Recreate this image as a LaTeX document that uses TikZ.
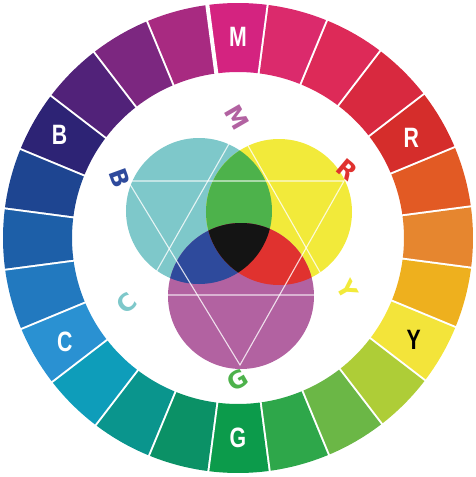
\documentclass[tikz,border=0pt]{standalone}
\usepackage{fontspec}
\setmainfont{Liberation Sans}
\newfontfamily\heavyfont{DejaVu Sans}

% ring colours, clockwise from the top (M)
\definecolor{ring0}{HTML}{D42380}
\definecolor{ring1}{HTML}{DB2A6C}
\definecolor{ring2}{HTML}{DD2A58}
\definecolor{ring3}{HTML}{D8293F}
\definecolor{ring4}{HTML}{D52D2B}
\definecolor{ring5}{HTML}{E25A24}
\definecolor{ring6}{HTML}{E6862F}
\definecolor{ring7}{HTML}{EEB01E}
\definecolor{ring8}{HTML}{F3E43A}
\definecolor{ring9}{HTML}{AECD37}
\definecolor{ring10}{HTML}{6BB746}
\definecolor{ring11}{HTML}{2EA74A}
\definecolor{ring12}{HTML}{0C9B4B}
\definecolor{ring13}{HTML}{0B9166}
\definecolor{ring14}{HTML}{0A958D}
\definecolor{ring15}{HTML}{0E9DBA}
\definecolor{ring16}{HTML}{2A91D2}
\definecolor{ring17}{HTML}{2279BF}
\definecolor{ring18}{HTML}{1D5FA8}
\definecolor{ring19}{HTML}{1E4591}
\definecolor{ring20}{HTML}{2D2375}
\definecolor{ring21}{HTML}{512279}
\definecolor{ring22}{HTML}{7C2780}
\definecolor{ring23}{HTML}{A82A81}
% inner circles and their overlaps
\definecolor{mixC}{HTML}{7EC8CA}
\definecolor{mixY}{HTML}{F2EA3A}
\definecolor{mixM}{HTML}{B262A1}
\definecolor{mixG}{HTML}{4DB24B}
\definecolor{mixB}{HTML}{2E4A9C}
\definecolor{mixR}{HTML}{E0322F}
\definecolor{mixK}{HTML}{141414}

\tikzset{
  ringlabel/.style={font=\bfseries\fontsize{28}{28}\selectfont, text=white, xscale=0.76, inner sep=0pt},
  innerlabel/.style={font=\heavyfont\bfseries\fontsize{24}{24}\selectfont, inner sep=0pt},
  hexline/.style={white, opacity=0.8, line width=1.1pt}
}

\begin{document}
\begin{tikzpicture}[x=1pt,y=1pt]
  \useasboundingbox (-238,-239) rectangle (238,238);

  % ring of 24 hues
  \foreach \i in {0,...,23}{
    \fill[ring\i] (90-15*\i-7.5:166) arc (90-15*\i-7.5:90-15*\i+7.5:166)
      -- (90-15*\i+7.5:235) arc (90-15*\i+7.5:90-15*\i-7.5:235) -- cycle;
    \draw[white,line width=4pt] (90-15*\i-7.5:160) -- (90-15*\i-7.5:240);
  }
  \node[ringlabel] (rM) at (90:201) {M};
  \node[ringlabel] (rR) at (30:200) {R};
  \node[ringlabel,text=black] (rY) at (-30:203) {Y};
  \node[ringlabel] (rG) at (270:200) {G};
  \node[ringlabel] (rC) at (211:202) {C};
  \node[ringlabel] (rB) at (150:206) {B};

  % three overlapping circles
  \coordinate (cC) at (-39,27);
  \coordinate (cY) at (41,26);
  \coordinate (cM) at (3,-58);
  \fill[mixC] (cC) circle (73);
  \fill[mixY] (cY) circle (73);
  \fill[mixM] (cM) circle (73);
  \begin{scope}
    \clip (cC) circle (73);
    \fill[mixG] (cY) circle (73);
    \fill[mixB] (cM) circle (73);
  \end{scope}
  \begin{scope}
    \clip (cY) circle (73);
    \fill[mixR] (cM) circle (73);
  \end{scope}
  \begin{scope}
    \clip (cC) circle (73);
    \clip (cY) circle (73);
    \fill[mixK] (cM) circle (73);
  \end{scope}

  % star of two triangles
  \coordinate (tB) at (-110,57);
  \coordinate (tR) at (106,57);
  \coordinate (tG) at (2,-127);
  \coordinate (tC) at (-95,-57);
  \coordinate (tY) at (95,-57);
  \coordinate (tM) at (0,110);
  \draw[hexline] (tB) -- (tR) -- (tG) -- cycle;
  \draw[hexline] (tC) -- (tY) -- (tM) -- cycle;

  % letters at the star points
  \node[innerlabel,text=mixM,rotate=-60] (iM) at (-1,121) {M};
  \node[innerlabel,text=mixB,rotate=-70] (iB) at (-118,60) {B};
  \node[innerlabel,text=mixR,rotate=-40] (iR) at (109,68) {R};
  \node[innerlabel,text=mixY,rotate=-60] (iY) at (109,-52) {Y};
  \node[innerlabel,text=mixC,rotate=40] (iC) at (-111,-65) {C};
  \node[innerlabel,text=mixG,rotate=30] (iG) at (0,-142) {G};
\end{tikzpicture}
\end{document}
